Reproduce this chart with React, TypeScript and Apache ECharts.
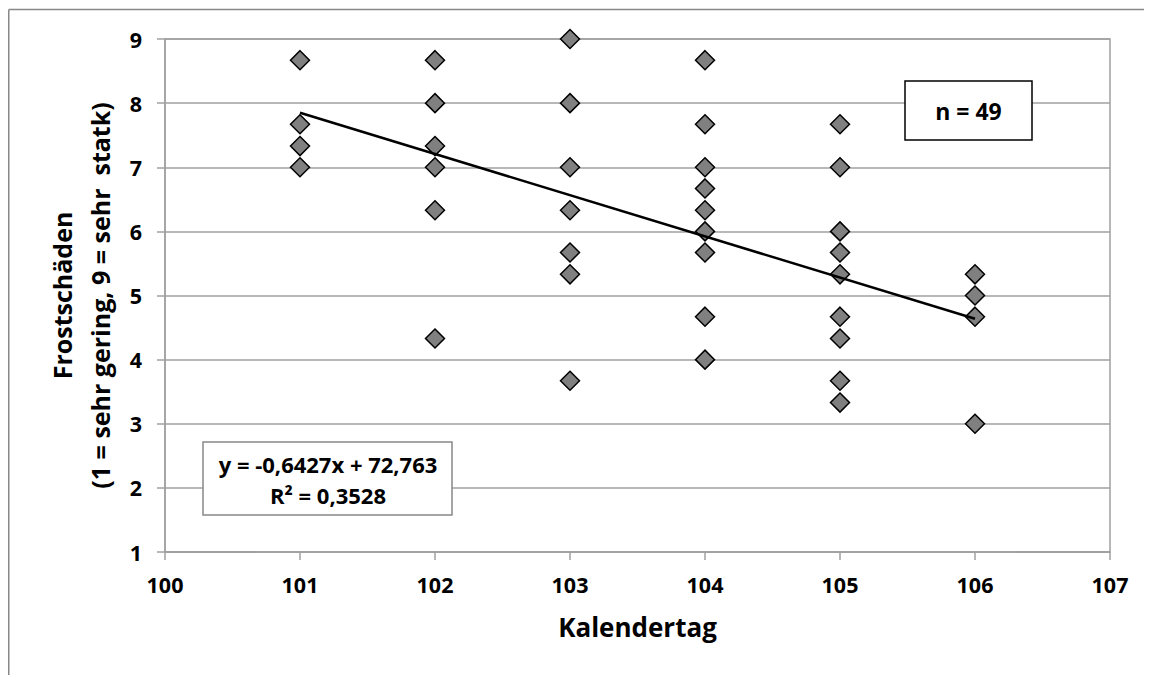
import { useEffect, useRef } from "react";
import * as echarts from "echarts";

// Frost damage scores per calendar day
const days = [101, 102, 103, 104, 105, 106];
const scoresDay101 = [8.67, 7.67, 7.33, 7.0];
const scoresDay102 = [8.67, 8.0, 7.33, 7.0, 6.33, 4.33];
const scoresDay103 = [9.0, 8.0, 7.0, 6.33, 5.67, 5.33, 3.67];
const scoresDay104 = [8.67, 7.67, 7.0, 6.67, 6.33, 6.0, 5.67, 4.67, 4.0];
const scoresDay105 = [7.67, 7.0, 6.0, 5.67, 5.33, 4.67, 4.33, 3.67, 3.33];
const scoresDay106 = [5.33, 5.0, 4.67, 3.0];
const scoresByDay = [scoresDay101, scoresDay102, scoresDay103, scoresDay104, scoresDay105, scoresDay106];

// Linear trend as stated on the chart
const trendSlope = -0.6427;
const trendIntercept = 72.763;
const trendX = [101, 106];

const xTicks = [100, 101, 102, 103, 104, 105, 106, 107];
const yTicks = [1, 2, 3, 4, 5, 6, 7, 8, 9];

const equationText = "y = -0,6427x + 72,763\nR² = 0,3528";
const nText = "n = 49";
const xTitle = "Kalendertag";
const yTitle = "Frostschäden\n(1 = sehr gering, 9 = sehr  statk)";

const FONT = "'Open Sans'";

export default function App() {
  const ref = useRef<HTMLDivElement>(null);
  useEffect(() => {
    if (!ref.current) return;
    const chart = echarts.init(ref.current, null, { renderer: "svg" });
    const points: number[][] = [];
    days.forEach((d, i) => scoresByDay[i].forEach((v) => points.push([d, v])));
    const trend = trendX.map((x) => [x, trendSlope * x + trendIntercept]);
    const gray = "#a0a0a0";
    chart.setOption({
      animation: false,
      grid: {
        left: 157,
        right: 42,
        top: 31,
        bottom: 123,
        show: true,
        borderColor: gray,
        borderWidth: 1.5,
        backgroundColor: "transparent",
      },
      xAxis: {
        type: "value",
        min: xTicks[0],
        max: xTicks[xTicks.length - 1],
        interval: 1,
        name: xTitle,
        nameLocation: "middle",
        nameGap: 62,
        nameTextStyle: { fontFamily: FONT, fontWeight: "bold", fontSize: 26, color: "#000" },
        axisLine: { show: true, lineStyle: { color: gray, width: 1.5 } },
        axisTick: { show: true, inside: false, length: 8, lineStyle: { color: gray, width: 1.5 } },
        axisLabel: { margin: 21, fontFamily: FONT, fontWeight: "bold", fontSize: 21.5, color: "#000" },
        splitLine: { show: false },
      },
      yAxis: {
        type: "value",
        min: yTicks[0],
        max: yTicks[yTicks.length - 1],
        interval: 1,
        name: yTitle,
        nameLocation: "middle",
        nameRotate: 90,
        nameGap: 44,
        nameTextStyle: { fontFamily: FONT, fontWeight: "bold", fontSize: 25, color: "#000", lineHeight: 38 },
        axisLine: { show: true, lineStyle: { color: gray, width: 1.5 } },
        axisTick: { show: true, inside: false, length: 8, lineStyle: { color: gray, width: 1.5 } },
        axisLabel: { margin: 23, fontFamily: FONT, fontWeight: "bold", fontSize: 21.5, color: "#000" },
        splitLine: { show: true, lineStyle: { color: gray, width: 1.5 } },
      },
      series: [
        {
          type: "scatter",
          data: points,
          symbol: "diamond",
          symbolSize: 19,
          itemStyle: { color: "#808080", borderColor: "#000", borderWidth: 1.5, opacity: 1 },
          z: 3,
        },
        {
          type: "line",
          data: trend,
          symbol: "none",
          lineStyle: { color: "#000", width: 2.5 },
          z: 4,
        },
      ],
      graphic: [
        {
          type: "line",
          z: 100,
          shape: { x1: 0.75, y1: 1.5, x2: 1144, y2: 1.5 },
          style: { stroke: "#888", lineWidth: 1.5 },
        },
        {
          type: "line",
          z: 100,
          shape: { x1: 0.75, y1: 1.5, x2: 0.75, y2: 667 },
          style: { stroke: "#888", lineWidth: 1.5 },
        },
        {
          type: "rect",
          z: 100,
          shape: { x: 195, y: 434, width: 249, height: 73 },
          style: { fill: "#fff", stroke: "#888", lineWidth: 1.5 },
        },
        {
          type: "text",
          z: 101,
          x: 320,
          y: 471,
          style: {
            text: equationText,
            fontFamily: FONT,
            fontWeight: "bold",
            fontSize: 22,
            lineHeight: 31,
            fill: "#000",
            align: "center",
            verticalAlign: "middle",
          },
        },
        {
          type: "rect",
          z: 100,
          shape: { x: 897, y: 73, width: 127, height: 59 },
          style: { fill: "#fff", stroke: "#000", lineWidth: 1.5 },
        },
        {
          type: "text",
          z: 101,
          x: 960.5,
          y: 103,
          style: {
            text: nText,
            fontFamily: FONT,
            fontWeight: "bold",
            fontSize: 23,
            fill: "#000",
            align: "center",
            verticalAlign: "middle",
          },
        },
      ],
    });
    return () => chart.dispose();
  }, []);
  return <div ref={ref} style={{ width: 1144, height: 667 }} />;
}
